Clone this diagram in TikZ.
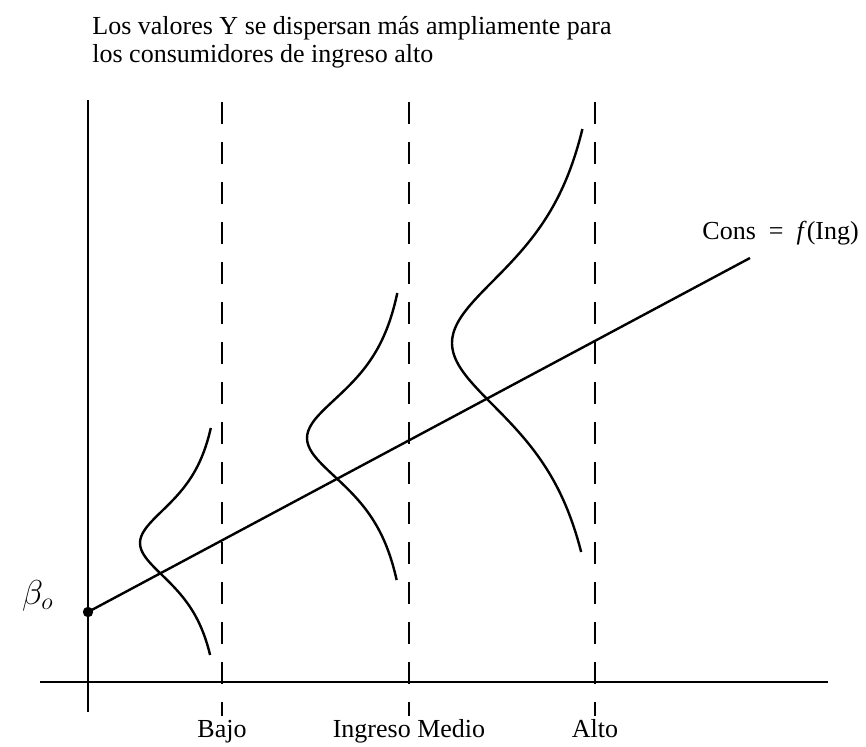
\documentclass[tikz,border=0pt]{standalone}
\usepackage{fontspec}
\setmainfont{Liberation Serif}
\usepackage{amsmath}

\begin{document}
\begin{tikzpicture}[x=0.5pt,y=0.5pt,yscale=-1,xscale=1,
  txt/.style={inner sep=0pt,font=\fontsize{13}{14}\selectfont},
  guide/.style={line width=1.4pt,dash pattern=on 11pt off 9pt},
  solidln/.style={line width=1.2pt},
  density/.style={line width=1.2pt,smooth,samples=80}]
\useasboundingbox (0,0) rectangle (866,747);

%Axes
\coordinate (yaxtop) at (88,100);
\coordinate (yaxbot) at (88,712);
\coordinate (xaxleft) at (40,682);
\coordinate (xaxright) at (828,682);
\draw [solidln] (yaxtop) -- (yaxbot) ;
\draw [solidln] (xaxleft) -- (xaxright) ;

%Dashed income levels and their labels
\foreach \gx/\lvl/\txt in {222/bajo/Bajo, 409/medio/Ingreso Medio, 595/alto/Alto}{
  \coordinate (\lvl top) at (\gx,102);
  \coordinate (\lvl bot) at (\gx,716);
  \draw [guide] (\lvl top) -- (\lvl bot) ;
  \node [txt, anchor=base] (\lvl lbl) at (\gx,737) {\txt};
}

%Densities
\draw [density] plot [domain=-115:112] ({227-87/(1+(\x/55)^2)},{543+\x});
\draw [density] plot [domain=-145:142] ({416-109/(1+(\x/66)^2)},{438+\x});
\draw [density] plot [domain=-214:209] ({615-163/(1+(\x/107)^2)},{343+\x});

%Straight Lines
\coordinate (b0) at (88,612);
\coordinate (lineend) at (750,258);
\draw [solidln] (b0) -- (lineend) ;
\fill (b0) circle (2.6pt);

% Text Node
\node [txt, anchor=base west] (title1) at (92,35) {Los valores Y se dispersan más ampliamente para};
% Text Node
\node [txt, anchor=base west] (title2) at (92,63) {los consumidores de ingreso alto};
% Text Node
\node [txt, anchor=base west] (conslbl) at (702,240) {Cons\enspace=\enspace\textit{f}(Ing)};
% Text Node
\node [inner sep=0pt, anchor=base east, font=\fontsize{18}{20}\selectfont] (b0lbl) at (54,604) {$\beta_{o}$};
\end{tikzpicture}
\end{document}
